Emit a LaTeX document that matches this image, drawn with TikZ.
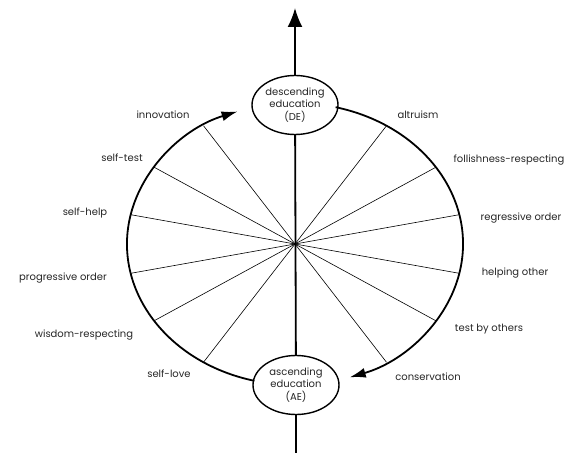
\documentclass[tikz,border=0pt]{standalone}
\usepackage{fontspec}
\setmainfont{Poppins}
\usetikzlibrary{arrows.meta,shapes.geometric,calc}
\begin{document}
\begin{tikzpicture}[x=1pt,y=1pt,
  lbl/.style={font=\fontsize{10}{12}\selectfont, text=black!85, inner sep=0pt},
  edu/.style={draw, ellipse, line width=1.4pt, minimum width=86pt, minimum height=59pt, inner sep=0pt, align=center, font=\fontsize{10}{12.5}\selectfont, text=black!85},
  spoke/.style={line width=0.6pt},
  rim/.style={line width=1.8pt},
  axis/.style={line width=1.8pt},
  tipsmall/.style={-{Latex[length=16pt,width=10pt]}},
  tipbig/.style={-{Latex[length=19pt,width=15pt]}}
]
\useasboundingbox (0,0) rectangle (578,453);
\coordinate (C) at (295,209);
\node[edu] (DE) at (295,348) {descending\\education\\(DE)};
\node[edu] (AE) at (296,68) {ascending\\education\\(AE)};
\coordinate (top) at (295,445);
\coordinate (bot) at (296,0);
\draw[axis,tipbig] (DE) -- (top);
\draw[axis] (DE) -- (AE);
\draw[axis] (AE) -- (bot);
% spokes
\foreach \a [count=\i] in {12,33,57,123,147,168,192,213,237,-12,-33,-57}{
  \coordinate (s\i) at ($(C)+(\a:168pt and 141pt)$);
  \draw[spoke] (C) -- (s\i);
}
% rim arcs
\coordinate (r1) at ($(C)+(76:168pt and 141pt)$);
\coordinate (r2) at ($(C)+(256:168pt and 141pt)$);
\draw[rim,tipsmall] (r1) arc[start angle=76, end angle=-71, x radius=168pt, y radius=141pt];
\draw[rim,tipsmall] (r2) arc[start angle=256, end angle=110, x radius=168pt, y radius=141pt];
% labels
\node[lbl] (l1) at (163,338) {innovation};
\node[lbl] (l2) at (122,295) {self-test};
\node[lbl] (l3) at (85,240) {self-help};
\node[lbl] (l4) at (63,175) {progressive order};
\node[lbl] (l5) at (84,118) {wisdom-respecting};
\node[lbl] (l6) at (169,79) {self-love};
\node[lbl] (l7) at (418,338) {altruism};
\node[lbl] (l8) at (509,293) {follishness-respecting};
\node[lbl] (l9) at (521,235) {regressive order};
\node[lbl] (l10) at (515,180) {helping other};
\node[lbl] (l11) at (489,124) {test by others};
\node[lbl] (l12) at (428,76) {conservation};
\end{tikzpicture}
\end{document}
